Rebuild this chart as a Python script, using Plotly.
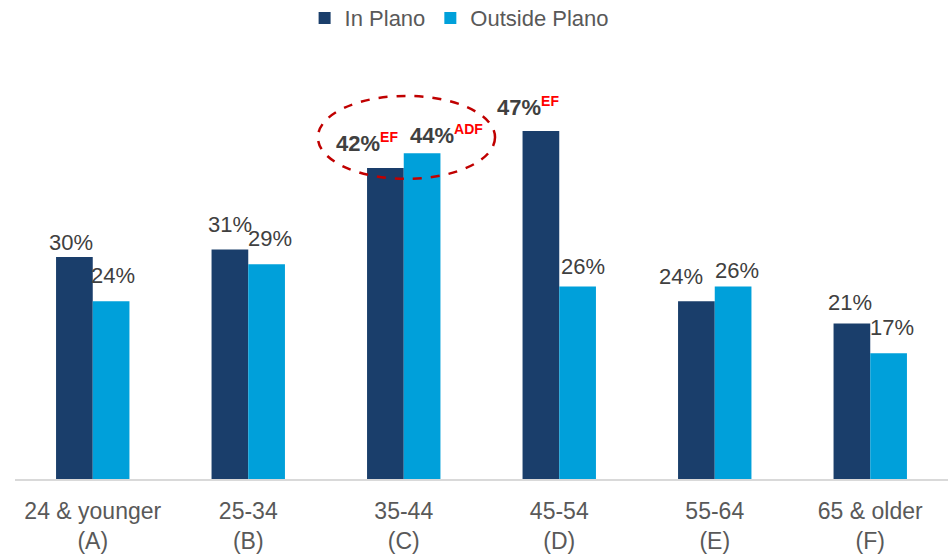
import plotly.graph_objects as go

categories = ["24 & younger<br>(A)", "25-34<br>(B)", "35-44<br>(C)", "45-54<br>(D)", "55-64<br>(E)", "65 & older<br>(F)"]
in_plano = [30, 31, 42, 47, 24, 21]
outside_plano = [24, 29, 44, 26, 26, 17]
in_sig = ["", "", "EF", "EF", "", ""]
out_sig = ["", "", "ADF", "", "", ""]

# label offsets (pixels) - styling only
in_dx = [-3.5, 0.5, -18.5, -12.5, -15, -1.5]
in_dy = [14.5, 25, 25.5, 25, 25, 21.5]
out_dx = [2, 3.5, 24.5, 5, 3.5, 3]
out_dy = [26, 26, 19, 20, 16, 25.5]

DARK = "#1A3E6B"
LIGHT = "#00A0DA"
TXT = "#404040"
FONT = "Liberation Sans, Arial, sans-serif"

fig = go.Figure()
fig.add_bar(name="In Plano", x=categories, y=in_plano, marker=dict(color=DARK, line=dict(width=0)), offsetgroup=0)
fig.add_bar(name="Outside Plano", x=categories, y=outside_plano, marker=dict(color=LIGHT, line=dict(width=0)), offsetgroup=1)

def label(v, sig):
    if sig:
        return (f"<b>{v}%</b><sup><span style='color:#FF0000;font-size:14px'><b>{sig}</b></span></sup>")
    return f"{v}%"

half = 0.472 / 2
for i, c in enumerate(categories):
    for vals, sigs, dxs, dys, off in ((in_plano, in_sig, in_dx, in_dy, -half / 2),
                                      (outside_plano, out_sig, out_dx, out_dy, half / 2)):
        fig.add_annotation(x=i + off, y=vals[i], xref="x", yref="y",
                           text=label(vals[i], sigs[i]), showarrow=False,
                           xanchor="center", yanchor="middle",
                           xshift=dxs[i], yshift=dys[i],
                           font=dict(family=FONT, size=22, color=TXT))

fig.add_shape(type="circle", xref="x", yref="y", x0=1.448, x1=2.587, y0=40.55, y1=51.75,
              line=dict(color="#C00000", width=2.5, dash="dash"))

fig.update_layout(
    width=949, height=559,
    margin=dict(l=15, r=1, t=60, b=79.5, autoexpand=False),
    paper_bgcolor="white", plot_bgcolor="white",
    barmode="group", bargap=0.528, bargroupgap=0,
    font=dict(family=FONT, color="#595959"),
    legend=dict(orientation="h", x=0.476, xanchor="center", y=1.10, yanchor="middle",
                font=dict(size=22, color="#595959"), traceorder="normal", itemwidth=30),
    showlegend=True,
)
fig.update_xaxes(showline=True, linecolor="#D9D9D9", linewidth=1.5, showgrid=False, ticks="",
                 automargin=False, ticklabelstandoff=11,
                 tickfont=dict(family=FONT, size=23, color="#595959"), zeroline=False)
fig.update_yaxes(visible=False, automargin=False, range=[0, 56.6], showgrid=False, zeroline=False)

fig.write_html("out.html", config={"displayModeBar": False},
               post_script="document.body.style.margin='0px';")
